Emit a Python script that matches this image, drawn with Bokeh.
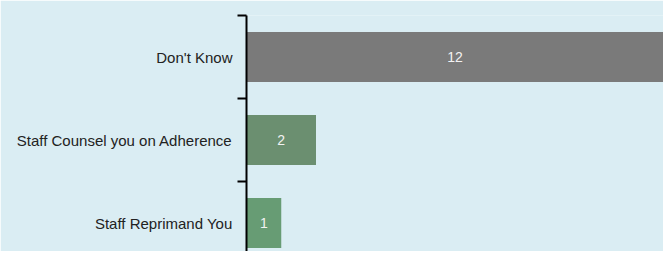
from bokeh.plotting import figure
from bokeh.models import ColumnDataSource, FixedTicker, Range1d
from bokeh.core.properties import value
from bokeh.embed import file_html
from bokeh.resources import INLINE

categories = ["Staff Reprimand You", "Staff Counsel you on Adherence", "Don't Know"]
counts = [1, 2, 12]
colors = ["#679c74", "#6b8f70", "#7a7a7a"]

ypos = [i + 0.5 for i in range(len(categories))]
src = ColumnDataSource(dict(y=ypos, v=counts, c=colors,
                            mid=[v / 2 for v in counts],
                            t=[str(v) for v in counts]))

p = figure(width=663, height=251, output_backend="svg", toolbar_location=None,
           x_range=Range1d(0, 12), y_range=Range1d(0.157, 3.0),
           min_border_left=246, min_border_right=0, min_border_top=15, min_border_bottom=0)
p.background_fill_color = "#daedf3"
p.border_fill_color = "#daedf3"
p.outline_line_color = None
p.grid.visible = False
p.xaxis.visible = False

p.hbar(y="y", right="v", left=0, height=0.6, fill_color="c", line_color=None, source=src)
p.text(x="mid", y="y", text="t", text_align="center", text_baseline="middle",
       text_color="#f2f2f2", text_font=value("Liberation Sans"), text_font_size="14px", source=src)

ya = p.yaxis[0]
ya.ticker = FixedTicker(ticks=ypos, minor_ticks=[0, 1, 2, 3])
ya.major_label_overrides = {y: c for y, c in zip(ypos, categories)}
ya.major_tick_out = 0
ya.major_tick_in = 0
ya.minor_tick_out = 9
ya.minor_tick_in = 0
ya.minor_tick_line_color = "black"
ya.minor_tick_line_width = 2
ya.axis_line_color = "black"
ya.axis_line_width = 2
ya.major_label_standoff = 5
ya.major_label_text_font = "Liberation Sans"
ya.major_label_text_font_size = "15px"
ya.major_label_text_color = "#222222"

open("out.html", "w").write(file_html(p, INLINE))
